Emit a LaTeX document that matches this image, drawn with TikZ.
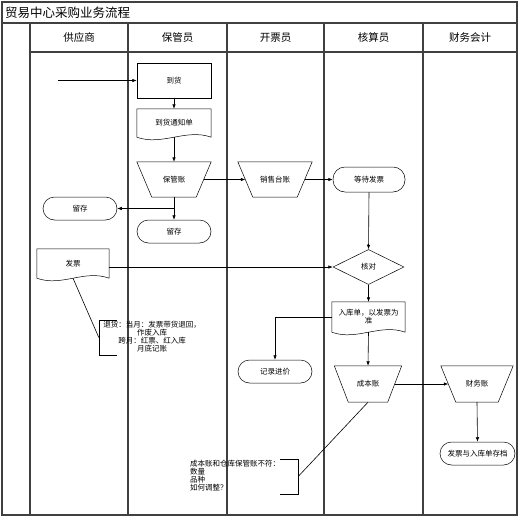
\documentclass[tikz,border=0pt]{standalone}
\usepackage{fontspec}
\setmainfont{Noto Sans CJK SC}
\usetikzlibrary{shapes.geometric,arrows.meta,calc}
\tikzset{
  lane/.style={draw=black!75,line width=1.3pt},
  shp/.style={draw=black,line width=0.5pt},
  txt/.style={font=\fontsize{7.5}{8}\selectfont,inner sep=0pt,align=center},
  boxr/.style={shp,txt,rectangle,minimum width=74pt,minimum height=35pt},
  docbox/.style={txt,rectangle,minimum width=74pt},
  trapbox/.style={txt,rectangle,minimum width=74pt,minimum height=35pt},
  stad/.style={shp,txt,rectangle,rounded corners=11.5pt,minimum width=74pt,minimum height=23pt},
  dia/.style={shp,txt,diamond,aspect=2,minimum width=71pt,minimum height=35pt},
  arr/.style={draw=black,line width=0.6pt,-{Latex[length=4.5pt,width=3.5pt]}},
  ln/.style={draw=black,line width=0.6pt},
  hdr/.style={font=\fontsize{10.5}{12}\selectfont,inner sep=0pt},
  brk/.style={draw=none,rectangle,inner sep=0pt}
}
\newcommand{\docwave}[1]{\draw[shp] (#1.north west) -- (#1.north east) -- (#1.south east)
  .. controls ($(#1.south east)+(-25,-9)$) and ($(#1.south west)+(25,9)$) .. (#1.south west) -- cycle;}
\newcommand{\trapdraw}[2]{\draw[shp] (#1.north west) -- (#1.north east) -- ($(#1.south east)+(-#2,0)$) -- ($(#1.south west)+(#2,0)$) -- cycle;}
\begin{document}
\begin{tikzpicture}[x=1pt,y=-1pt]
\useasboundingbox (0,0) rectangle (520,517);
% frame and lanes
\draw[lane] (2,2) rectangle (517,515);
\draw[lane] (2,23) -- (517,23);
\draw[lane] (30,52) -- (517,52);
\foreach \x in {30,128,227,324,423} \draw[lane] (\x,23) -- (\x,515);
\node[anchor=west,font=\fontsize{12.5}{14}\selectfont,inner sep=0pt] (title) at (5,13) {贸易中心采购业务流程};
\node[hdr] (h1) at (79,38) {供应商};
\node[hdr] (h2) at (177.5,38) {保管员};
\node[hdr] (h3) at (275.5,38) {开票员};
\node[hdr] (h4) at (373.5,38) {核算员};
\node[hdr] (h5) at (470,38) {财务会计};
% nodes
\node[boxr] (daohuo) at (174,80.5) {到货};
\coordinate (src) at (58,80.5);
\node[docbox,minimum height=28pt] (tongzhi) at (174,123) {到货通知单};
\docwave{tongzhi}
\node[trapbox] (baoguan) at (174,179.5) {保管账};
\trapdraw{baoguan}{15}
\node[trapbox] (xiaoshou) at (275,179.5) {销售台账};
\trapdraw{xiaoshou}{15}
\node[stad,minimum width=72pt,rounded corners=12pt,minimum height=25pt] (dengdai) at (369,179.5) {等待发票};
\node[stad] (liucunL) at (80,208.5) {留存};
\node[stad] (liucunM) at (174,231.5) {留存};
\node[docbox,minimum width=72pt,minimum height=29pt] (fapiao) at (73,263.5) {发票};
\docwave{fapiao}
\node[dia] (hedui) at (368.5,267) {核对};
\node[docbox,minimum width=73pt,minimum height=30pt] (ruku) at (368.5,317) {入库单，以发票为\\准};
\docwave{ruku}
\node[stad] (jilu) at (275,371.5) {记录进价};
\node[trapbox,minimum width=67pt,minimum height=36pt] (chengben) at (368,384) {成本账};
\trapdraw{chengben}{14}
\node[trapbox,minimum width=72pt,minimum height=36pt] (caiwu) at (477,384) {财务账};
\trapdraw{caiwu}{15}
\node[stad,minimum width=75pt] (cundang) at (477.5,453.5) {发票与入库单存档};
% annotations
\node[brk,minimum width=18pt,minimum height=35pt] (br1) at (108,337.5) {};
\draw[ln] (br1.north east) -- (br1.north west) -- (br1.south west) -- (br1.south east);
\node[txt] (note1) at (152,337) {退货：当月：发票带货退回，\\作废入库\\跨月：红票、红入库\\月底记账};
\node[brk,minimum width=18pt,minimum height=35pt] (br2) at (289,476.5) {};
\draw[ln] (br2.north west) -- (br2.north east) -- (br2.south east) -- (br2.south west);
\node[txt,align=left,anchor=west] (note2) at (190,476) {成本账和仓库保管账不符：\\数量\\品种\\如何调整？};
% connectors
\draw[arr] (src) -- (daohuo.west);
\draw[arr] (daohuo.south) -- (tongzhi.north);
\draw[arr] (tongzhi.south) -- (baoguan.north);
\draw[arr] (baoguan.south) -- (liucunM.north);
\draw[arr] (baoguan.south |- liucunL.east) -- (liucunL.east);
\draw[arr] ($(baoguan.east)+(-7.5,0)$) -- ($(xiaoshou.west)+(7.5,0)$);
\draw[arr] ($(xiaoshou.east)+(-7.5,0)$) -- (dengdai.west);
\draw[arr] (dengdai.south) -- (hedui.north);
\draw[arr] (fapiao.east |- hedui.west) -- (hedui.west);
\draw[ln] (fapiao.south) -- (br1.west);
\draw[arr] (hedui.south) -- (ruku.north);
\draw[arr] (ruku.west) -| (jilu.north);
\draw[arr] (ruku.south) -- (chengben.north);
\draw[arr] ($(chengben.east)+(-7,0)$) -- ($(caiwu.west)+(7.5,0)$);
\draw[arr] (caiwu.south) -- (cundang.north);
\draw[ln] (chengben.south) -- (br2.east);
\end{tikzpicture}
\end{document}
